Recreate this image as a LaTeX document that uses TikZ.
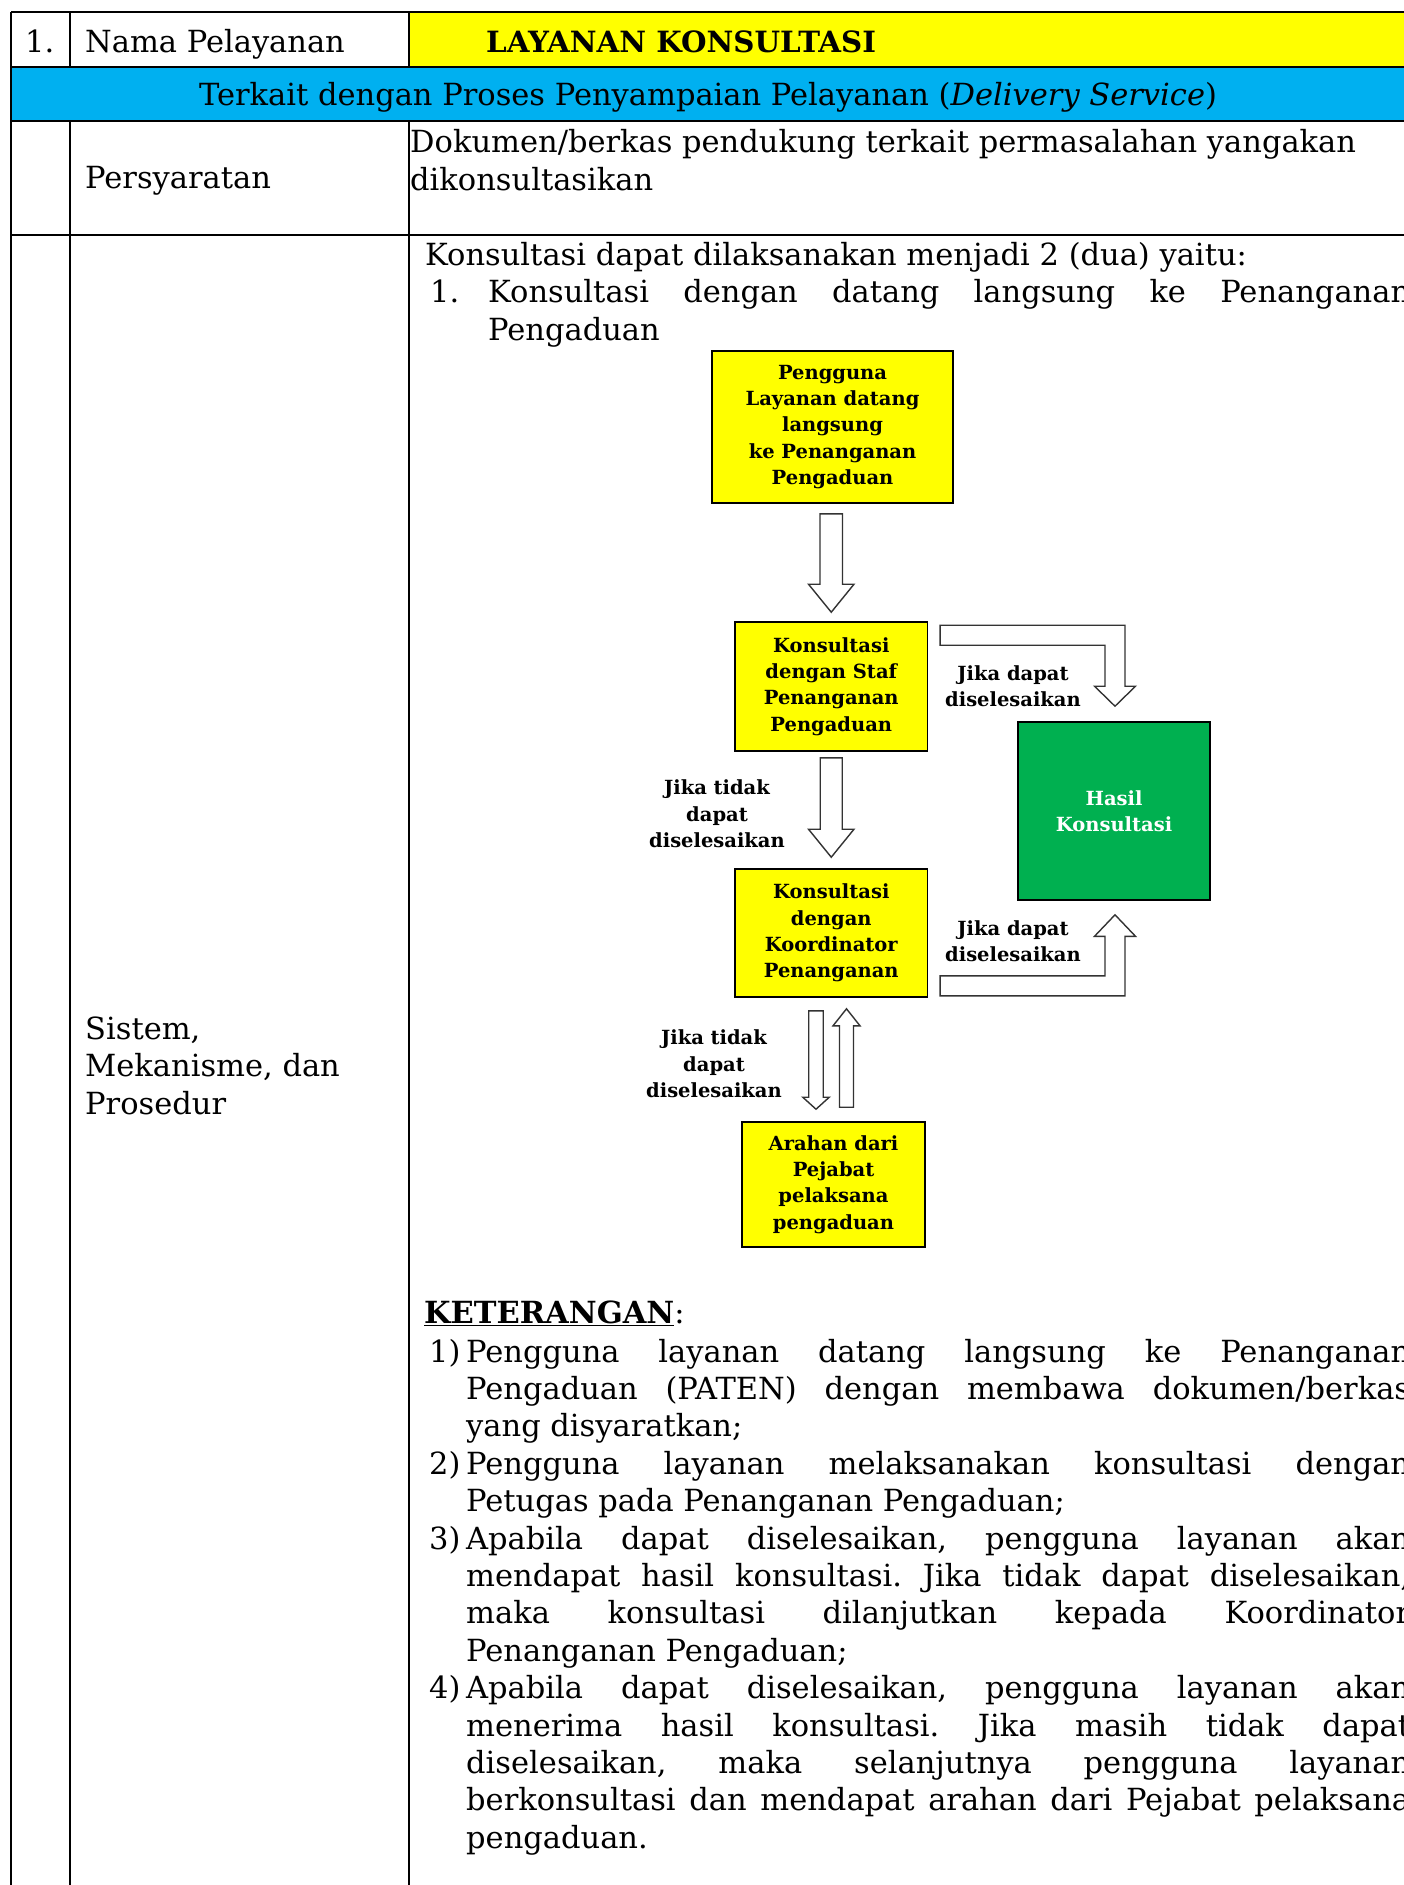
\documentclass[tikz,border=0pt]{standalone}
\usepackage{fontspec}
\setmainfont{DejaVu Serif}
\usetikzlibrary{calc}
\frenchspacing
\definecolor{yel}{HTML}{FFFF00}
\definecolor{sky}{HTML}{00B0F0}
\definecolor{grn}{HTML}{00B050}
\newcommand\bodyfont{\fontsize{30.5}{37.6}\selectfont\frenchspacing}
\newcommand\flowfont{\fontsize{19.5}{26.3}\selectfont\bfseries}
\newcommand\jline[2]{\makebox[#1][s]{#2}}
\newcommand\vhollow[5]{%
  \draw[hollow] let \p1=(#1), \p2=(#2) in
   (\x1-#3,\y1) -- (\x1+#3,\y1) -- (\x1+#3,\y2+#5) -- (\x1+#4,\y2+#5) -- (\x1,\y2)
   -- (\x1-#4,\y2+#5) -- (\x1-#3,\y2+#5) -- cycle;}
\newcommand\bentdown[2]{%
  \draw[hollow] let \p1=(#1), \p2=(#2) in
   (\x1,\y1+10pt) -- (\x2+10pt,\y1+10pt) -- (\x2+10pt,\y2+20pt) -- (\x2+20.5pt,\y2+20pt)
   -- (\x2,\y2) -- (\x2-20.5pt,\y2+20pt) -- (\x2-10pt,\y2+20pt) -- (\x2-10pt,\y1-10pt)
   -- (\x1,\y1-10pt) -- cycle;}
\newcommand\bentup[2]{%
  \draw[hollow] let \p1=(#1), \p2=(#2) in
   (\x1,\y1-10pt) -- (\x2+10pt,\y1-10pt) -- (\x2+10pt,\y2-21.5pt) -- (\x2+20.5pt,\y2-21.5pt)
   -- (\x2,\y2) -- (\x2-20.5pt,\y2-21.5pt) -- (\x2-10pt,\y2-21.5pt) -- (\x2-10pt,\y1+10pt)
   -- (\x1,\y1+10pt) -- cycle;}
\begin{document}
\begin{tikzpicture}[x=1pt,y=-1pt,
  txt/.style={inner sep=0pt, anchor=base west, font=\bodyfont},
  tbl/.style={line width=1.3pt},
  flowbox/.style={draw=black, line width=1.6pt, fill=yel, inner sep=0pt, align=center, font=\flowfont},
  lbl/.style={inner sep=0pt, align=center, font=\flowfont},
  hollow/.style={draw=black!80, line width=1.4pt, fill=white, line join=miter}]
\useasboundingbox (0,0) rectangle (1404,1885);
\clip (0,0) rectangle (1404,1885);
\fill[white] (0,0) rectangle (1404,1885);
% table fills
\fill[yel] (409,12) rectangle (1420,67);
\fill[sky] (11,67) rectangle (1420,121);
% table lines
\draw[tbl] (11,12) -- (1420,12);
\draw[tbl] (11,67) -- (1420,67);
\draw[tbl] (11,121) -- (1420,121);
\draw[tbl] (11,235) -- (1420,235);
\draw[tbl] (11,12) -- (11,1900);
\draw[tbl] (70,12) -- (70,67);
\draw[tbl] (70,121) -- (70,1900);
\draw[tbl] (409,12) -- (409,67);
\draw[tbl] (409,121) -- (409,1900);
% table texts
\node[txt] (n1) at (25,52) {1.};
\node[txt] (nama) at (85,52) {Nama Pelayanan};
\node[txt, font=\fontsize{29.3}{37.6}\selectfont\bfseries] (lay) at (486,52) {LAYANAN KONSULTASI};
\node[inner sep=0pt, anchor=base, font=\bodyfont] (terk) at (708,105) {Terkait dengan Proses Penyampaian Pelayanan (\textit{Delivery Service})};
\node[txt] (pers) at (85,188) {Persyaratan};
\node[txt] (dok1) at (410,152) {Dokumen/berkas pendukung terkait permasalahan yangakan};
\node[txt] (dok2) at (410,190) {dikonsultasikan};
\node[txt] (sis1) at (85,1039) {Sistem,};
\node[txt] (sis2) at (85,1076) {Mekanisme, dan};
\node[txt] (sis3) at (85,1114) {Prosedur};
\node[txt] (k0) at (425,265) {Konsultasi dapat dilaksanakan menjadi 2 (dua) yaitu:};
\node[txt] (k1n) at (430,302) {1.};
\node[txt] (k1) at (488,302) {\jline{922pt}{Konsultasi dengan datang langsung ke Penanganan}};
\node[txt] (k2) at (488,340) {Pengaduan};
% flowchart
\node[flowbox, minimum width=241pt, minimum height=152pt] (b1) at (832.5,427) {Pengguna\\Layanan datang\\langsung\\ke Penanganan\\Pengaduan};
\node[flowbox, minimum width=192.5pt, minimum height=129pt] (b2) at (831.25,686.5) {Konsultasi\\dengan Staf\\Penanganan\\Pengaduan};
\node[flowbox, fill=grn, text=white, minimum width=192pt, minimum height=178pt] (hasil) at (1114,811) {Hasil\\Konsultasi};
\node[flowbox, minimum width=192.5pt, minimum height=128pt] (b3) at (831.25,933) {Konsultasi\\dengan\\Koordinator\\Penanganan};
\node[flowbox, minimum width=183pt, minimum height=125pt] (b4) at (833.5,1184.5) {Arahan dari\\Pejabat\\pelaksana\\pengaduan};
\node[lbl] (l1) at (1013,686.5) {Jika dapat\\diselesaikan};
\node[lbl] (l2) at (1013,941.5) {Jika dapat\\diselesaikan};
\node[lbl] (l3) at (717,814) {Jika tidak\\dapat\\diselesaikan};
\node[lbl] (l4) at (714,1064) {Jika tidak\\dapat\\diselesaikan};
% connector end points
\coordinate (a1s) at ($(b1.south)+(-1.25,10)$);
\coordinate (a1t) at ($(b2.north)+(0,-9)$);
\coordinate (a2s) at ($(b2.south)+(0,6)$);
\coordinate (a2t) at ($(b3.north)+(0,-11)$);
\coordinate (d1s) at ($(b3.south)+(-15.25,13)$);
\coordinate (d1t) at ($(b4.north)+(-17.5,-12)$);
\coordinate (u1s) at ($(b4.north)+(13,-14)$);
\coordinate (u1t) at ($(b3.south)+(15.25,11)$);
\coordinate (ts) at ($(b2.north east)+(11.75,14)$);
\coordinate (tt) at ($(hasil.north)+(1,-15)$);
\coordinate (bs) at ($(b3.south east)+(11.75,-12)$);
\coordinate (bt) at ($(hasil.south)+(1,14)$);
\vhollow{a1s}{a1t}{11.25pt}{22.75pt}{28pt}
\vhollow{a2s}{a2t}{11pt}{22.75pt}{28pt}
\vhollow{d1s}{d1t}{7.25pt}{13.25pt}{12pt}
\vhollow{u1s}{u1t}{7pt}{13.5pt}{-17pt}
\bentdown{ts}{tt}
\bentup{bs}{bt}
% keterangan
\node[txt] (ket) at (424,1323) {\underline{\textbf{KETERANGAN}}:};
\node[txt] (m1) at (429,1362) {1)};
\node[txt] (t0) at (466,1362) {\jline{944pt}{Pengguna layanan datang langsung ke Penanganan}};
\node[txt] (t1) at (466,1399.4) {\jline{944pt}{Pengaduan (PATEN) dengan membawa dokumen/berkas}};
\node[txt] (t2) at (466,1436.8) {yang disyaratkan;};
\node[txt] (m2) at (429,1474.2) {2)};
\node[txt] (t3) at (466,1474.2) {\jline{944pt}{Pengguna layanan melaksanakan konsultasi dengan}};
\node[txt] (t4) at (466,1511.6) {Petugas pada Penanganan Pengaduan;};
\node[txt] (m3) at (429,1549) {3)};
\node[txt] (t5) at (466,1549) {\jline{944pt}{Apabila dapat diselesaikan, pengguna layanan akan}};
\node[txt] (t6) at (466,1586.4) {\jline{944pt}{mendapat hasil konsultasi. Jika tidak dapat diselesaikan,}};
\node[txt] (t7) at (466,1623.8) {\jline{944pt}{maka konsultasi dilanjutkan kepada Koordinator}};
\node[txt] (t8) at (466,1661.2) {Penanganan Pengaduan;};
\node[txt] (m4) at (429,1698.6) {4)};
\node[txt] (t9) at (466,1698.6) {\jline{944pt}{Apabila dapat diselesaikan, pengguna layanan akan}};
\node[txt] (t10) at (466,1736) {\jline{944pt}{menerima hasil konsultasi. Jika masih tidak dapat}};
\node[txt] (t11) at (466,1773.4) {\jline{944pt}{diselesaikan, maka selanjutnya pengguna layanan}};
\node[txt] (t12) at (466,1810.8) {\jline{944pt}{berkonsultasi dan mendapat arahan dari Pejabat pelaksana}};
\node[txt] (t13) at (466,1848.2) {pengaduan.};
\end{tikzpicture}
\end{document}
